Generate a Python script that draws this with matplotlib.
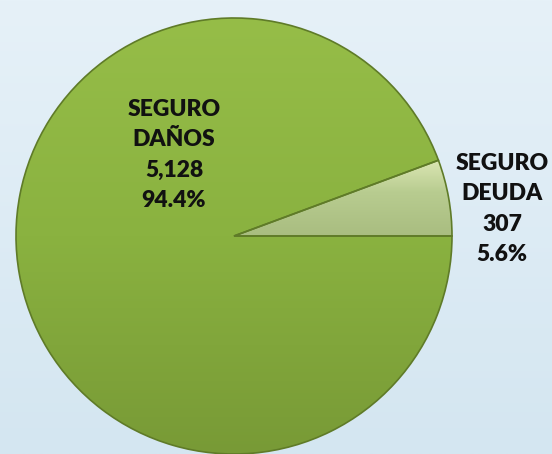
import numpy as np
import matplotlib
matplotlib.use("Agg")
import matplotlib.pyplot as plt
from matplotlib.colors import LinearSegmentedColormap

categories = ["SEGURO\nDAÑOS", "SEGURO\nDEUDA"]
values = [5128, 307]
value_labels = ["5,128", "307"]
pct_labels = ["94.4%", "5.6%"]

W, H = 552, 454
fig = plt.figure(figsize=(W / 100, H / 100), dpi=100)

# background gradient
bg = fig.add_axes([0, 0, 1, 1], zorder=0)
bg.axis("off")
grad = np.linspace(0, 1, 256).reshape(-1, 1)
bg_cmap = LinearSegmentedColormap.from_list("bg", ["#e6f1f8", "#d4e6f1"])
bg.imshow(grad, aspect="auto", cmap=bg_cmap, extent=[0, 1, 0, 1], origin="upper")

ax = fig.add_axes([0, 0, 1, 1], zorder=1)
ax.set_facecolor("none")
cx, cy, R = 234, H - 236, 218.0

wedges, _ = ax.pie(values, startangle=0, counterclock=False, radius=1,
                   colors=["#8ab240", "#b4c98b"],
                   wedgeprops=dict(edgecolor="#5f7b28", linewidth=1.2))

ax.set_aspect("auto")
ax.axis("off")

# shading gradients clipped to wedges
green_cmap = LinearSegmentedColormap.from_list("g", ["#96bd48", "#8ab240", "#789a36"])
light_cmap = LinearSegmentedColormap.from_list("l", ["#e8f0c0", "#b8cc90", "#a9bd80"])
gy = np.linspace(0, 1, 256).reshape(-1, 1)
im1 = ax.imshow(gy, cmap=green_cmap, extent=[-1, 1, -1, 1], origin="upper",
                aspect="auto", zorder=1.5)
im1.set_clip_path(wedges[0])
im2 = ax.imshow(gy, cmap=light_cmap, extent=[0, 1, 0, 0.4], origin="upper",
                aspect="auto", zorder=1.5)
im2.set_clip_path(wedges[1])
for w in wedges:
    w.set_zorder(2)
    w.set_facecolor("none")
ax.set_xlim(-cx / R, (W - cx) / R)
ax.set_ylim(-cy / R, (H - cy) / R)

font = dict(family=["Lato", "DejaVu Sans"], fontweight="heavy", fontsize=16.5,
            color="#111111", ha="center", va="center", linespacing=1.55)
ax.text((174 - cx) / R, ((H - 155) - cy) / R,
        f"{categories[0]}\n{value_labels[0]}\n{pct_labels[0]}", zorder=5, **font)
ax.text((502 - cx) / R, ((H - 209) - cy) / R,
        f"{categories[1]}\n{value_labels[1]}\n{pct_labels[1]}", zorder=5, **font)

fig.savefig("out.png", dpi=100)
